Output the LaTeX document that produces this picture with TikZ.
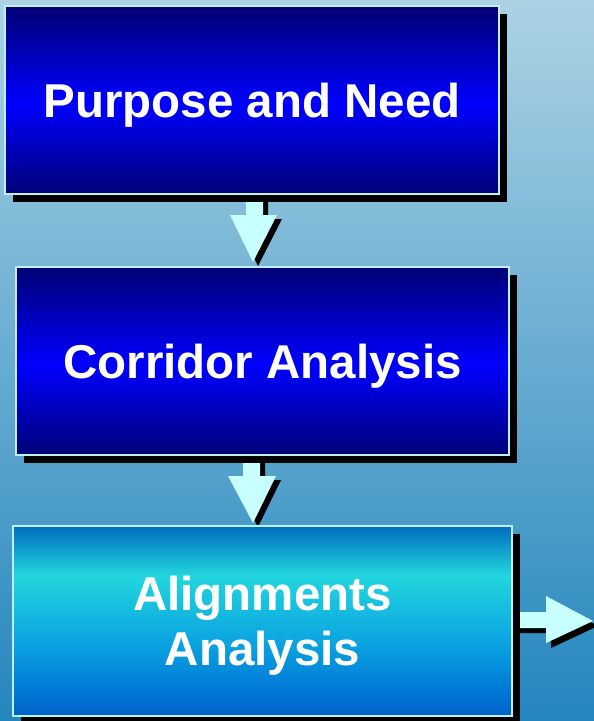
\documentclass[tikz,border=0pt]{standalone}
\usepackage{fontspec}
\setmainfont{Liberation Sans}
\usetikzlibrary{shadows}
\definecolor{bgtop}{RGB}{172,210,228}
\definecolor{bgmid}{RGB}{118,178,210}
\definecolor{bgbot}{RGB}{36,134,190}
\definecolor{edgec}{RGB}{190,240,250}
\definecolor{arrowc}{RGB}{200,255,255}
\definecolor{bAtop}{RGB}{0,0,116}
\definecolor{bAmid}{RGB}{0,0,255}
\definecolor{bAbot}{RGB}{0,0,118}
\definecolor{cTop}{RGB}{0,108,190}
\definecolor{cHi}{RGB}{34,214,222}
\definecolor{cMid}{RGB}{12,165,225}
\definecolor{cLow}{RGB}{0,122,215}
\definecolor{cBot}{RGB}{0,98,198}
\pgfdeclareverticalshading{bluebox}{100bp}{color(0bp)=(bAbot); color(25bp)=(bAbot); color(49bp)=(bAmid); color(75bp)=(bAtop); color(100bp)=(bAtop)}
\pgfdeclareverticalshading{cyanbox}{100bp}{color(0bp)=(cBot); color(25bp)=(cBot); color(32bp)=(cLow); color(45bp)=(cMid); color(62bp)=(cHi); color(75bp)=(cTop); color(100bp)=(cTop)}
\newcommand{\lowered}[1]{\raisebox{-5pt}[\height][\depth]{#1}}
\tikzset{
  stagebox/.style={draw=edgec, line width=1.5pt, text=white, align=center, inner sep=0pt,
    font=\fontsize{47.5}{55}\selectfont\bfseries,
    drop shadow={shadow xshift=8pt, shadow yshift=-8pt, fill=black, opacity=1}},
  arrowshadow/.style={fill=black},
  arrowbody/.style={fill=arrowc}
}
\begin{document}
\begin{tikzpicture}[x=1pt,y=-1pt]
\useasboundingbox (0,0) rectangle (594,721);
\clip (0,0) rectangle (594,721);
\shade[top color=bgtop, middle color=bgmid, bottom color=bgbot] (0,0) rectangle (594,721);
% arrow 1
\fill[arrowshadow, shift={(5,4)}] (246,190) -- (263,190) -- (263,215) -- (277,215) -- (253,262) -- (230,215) -- (246,215) -- cycle;
\fill[arrowbody] (246,190) -- (263,190) -- (263,215) -- (277,215) -- (253,262) -- (230,215) -- (246,215) -- cycle;
% arrow 2
\fill[arrowshadow, shift={(5,4)}] (243,450) -- (260,450) -- (260,476) -- (276,476) -- (253,523) -- (228,476) -- (243,476) -- cycle;
\fill[arrowbody] (243,450) -- (260,450) -- (260,476) -- (276,476) -- (253,523) -- (228,476) -- (243,476) -- cycle;
% arrow 3
\fill[arrowshadow, shift={(5,5)}] (510,612) -- (546,612) -- (546,596) -- (593,621) -- (546,643) -- (546,628) -- (510,628) -- cycle;
\fill[arrowbody] (510,612) -- (546,612) -- (546,596) -- (593,621) -- (546,643) -- (546,628) -- (510,628) -- cycle;
% boxes
\node[stagebox, shading=bluebox, minimum width=494pt, minimum height=188pt] (pn) at (252,100) {\lowered{Purpose and Need}};
\node[stagebox, shading=bluebox, minimum width=493pt, minimum height=188pt] (ca) at (262.5,361) {\lowered{Corridor Analysis}};
\node[stagebox, shading=cyanbox, minimum width=499pt, minimum height=190pt] (aa) at (262.5,621) {\lowered{Alignments}\\\lowered{Analysis}};
\end{tikzpicture}
\end{document}
